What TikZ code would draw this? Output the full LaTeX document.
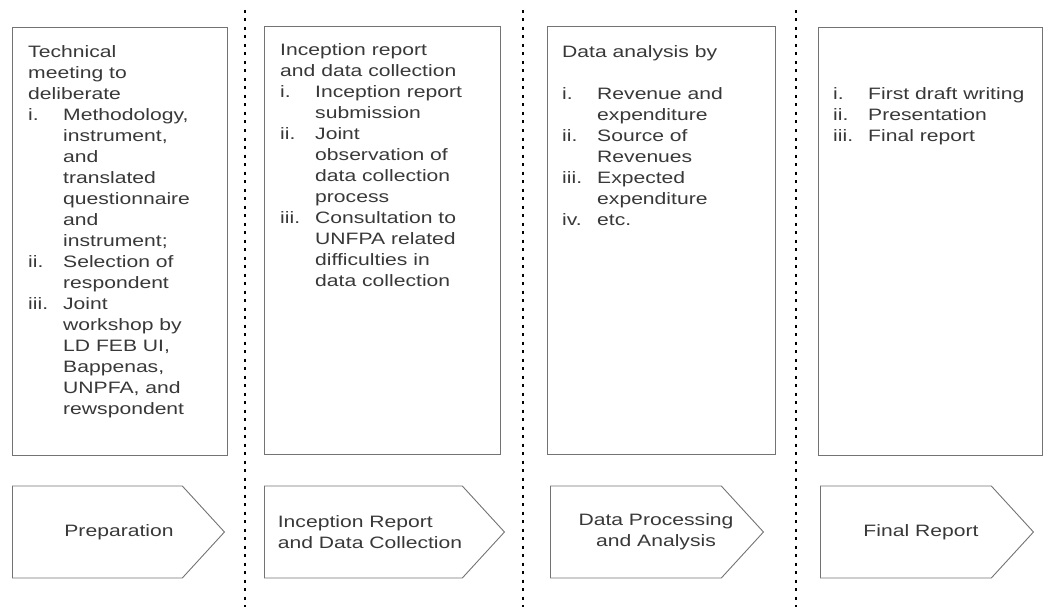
\documentclass[tikz,border=0pt]{standalone}
\usepackage{fontspec}
\setmainfont{Liberation Sans}[FakeStretch=1.28]
\usetikzlibrary{positioning, shapes.symbols}
\definecolor{linegray}{gray}{0.45}
\definecolor{textgray}{gray}{0.22}
\newcommand{\itm}[1]{\makebox[35pt][l]{#1}}
\newcommand{\ind}{\hspace*{35pt}}

\begin{document}
\begin{tikzpicture}[x=1pt,y=-1pt,
  phasebox/.style={draw=linegray, line width=0.9pt, minimum height=428pt,
    anchor=north west, inner sep=0pt},
  listtext/.style={align=left, inner sep=0pt, text=textgray,
    font={\fontsize{16.5}{21}\selectfont}},
  stage/.style={shape=signal, signal to=east, signal pointer angle=95,
    draw=linegray, line width=0.9pt, minimum height=92pt, anchor=west,
    inner sep=0pt},
  stagetext/.style={inner sep=0pt, text=textgray,
    font={\fontsize{16.5}{21}\selectfont}},
  sepline/.style={line width=2.4pt, dash pattern=on 3pt off 5.5pt}]

\useasboundingbox (0,0) rectangle (1043,607);

% phase boxes
  \node[phasebox, minimum width=215pt] (box1) at (12,27)  {};
  \node[phasebox, minimum width=236pt] (box2) at (264,26) {};
  \node[phasebox, minimum width=228pt] (box3) at (547,26) {};
  \node[phasebox, minimum width=224pt] (box4) at (818,27) {};

% what happens in each phase
  \node[listtext] (act1) [below right=18pt and 16pt of box1.north west]
{Technical\\ meeting to\\ deliberate\\
 \itm{i.}Methodology,\\ \ind instrument,\\ \ind and\\ \ind translated\\
 \ind questionnaire\\ \ind and\\ \ind instrument;\\
 \itm{ii.}Selection of\\ \ind respondent\\
 \itm{iii.}Joint\\ \ind workshop by\\ \ind LD FEB UI,\\ \ind Bappenas,\\
 \ind UNPFA, and\\ \ind rewspondent};
  \node[listtext] (act2) [below right=17pt and 16pt of box2.north west]
{Inception report\\ and data collection\\
 \itm{i.}Inception report\\ \ind submission\\
 \itm{ii.}Joint\\ \ind observation of\\ \ind data collection\\ \ind process\\
 \itm{iii.}Consultation to\\ \ind UNFPA related\\ \ind difficulties in\\
 \ind data collection};
  \node[listtext] (act3) [below right=19pt and 15pt of box3.north west]
{Data analysis by\\[21pt]
 \itm{i.}Revenue and\\ \ind expenditure\\
 \itm{ii.}Source of\\ \ind Revenues\\
 \itm{iii.}Expected\\ \ind expenditure\\
 \itm{iv.}etc.};
  \node[listtext] (act4) [below right=60pt and 15pt of box4.north west]
{\itm{i.}First draft writing\\ \itm{ii.}Presentation\\ \itm{iii.}Final report};

% the phases
  \node[stage, minimum width=212pt] (prep)  at (12,532)  {};
  \node[stage, minimum width=240pt] (incep) at (264,532) {};
  \node[stage, minimum width=213pt] (proc)  at (550,532) {};
  \node[stage, minimum width=213pt] (final) at (820,532) {};

  \node[stagetext] (preplabel)  at (119,532) {Preparation};
  \node[stagetext, align=left] (inceplabel) at (370,532)
{Inception Report\\ and Data Collection};
  \node[stagetext, align=center] (proclabel) at (656,532)
{Data Processing\\ and Analysis};
  \node[stagetext] (finallabel) at (921,532) {Final Report};

% separators
  \foreach \x in {245,523,796}
    \draw[sepline] (\x,10) -- (\x,607);

\end{tikzpicture}
\end{document}
